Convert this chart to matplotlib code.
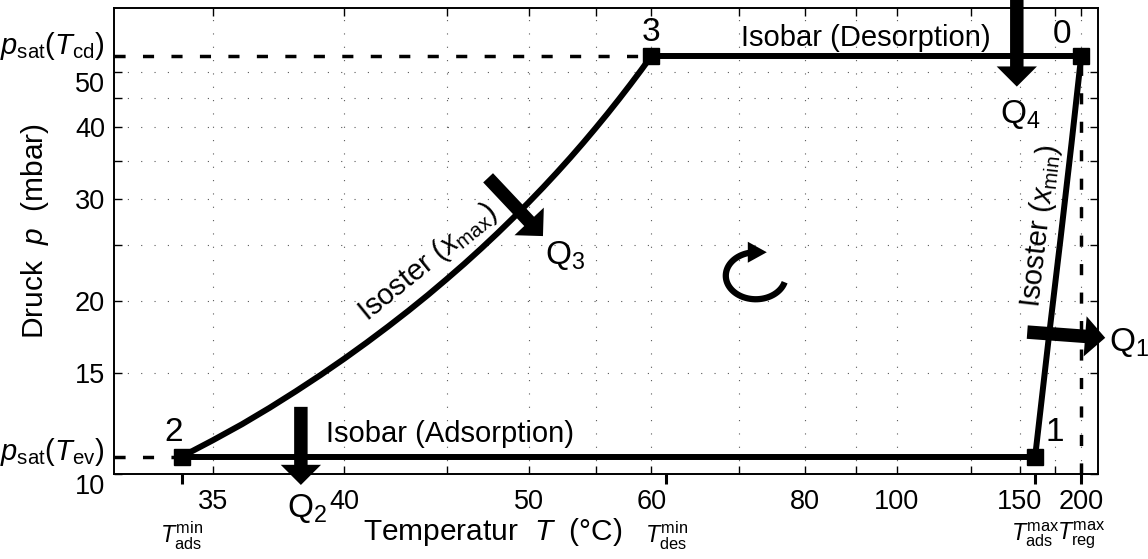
import numpy as np
import matplotlib
matplotlib.use('Agg')
import matplotlib.pyplot as plt
import matplotlib.ticker as mticker
import matplotlib.transforms as mtransforms

plt.rcParams['font.family'] = ['Liberation Sans', 'DejaVu Sans']
plt.rcParams['mathtext.fontset'] = 'custom'
plt.rcParams['mathtext.rm'] = 'Liberation Sans'
plt.rcParams['mathtext.it'] = 'Liberation Sans:italic'
plt.rcParams['mathtext.bf'] = 'Liberation Sans:bold'

# pressures (mbar) and temperatures (°C) of the cycle
p_ev = 10.72      # p_sat(T_ev)
p_cd = 53.2       # p_sat(T_cd)
T_ads_min = 34.0
T_des_min = 61.5
T_ads_max = 160.0
T_reg_max = 200.0
T_state3 = 60.0

# axis range
T_range = [32, 220]
p_range = [10, 64.5]

# isoster x_max (2 -> 3)
iso_max_T = [34, 35, 36, 37, 38, 39, 40, 41, 42, 43, 44, 45, 46, 47,
             48, 49, 50, 51, 52, 53, 54, 55, 56, 57, 58, 59, 60]
iso_max_p = [10.72, 11.44, 12.2, 13.03, 13.92, 14.86, 15.86, 16.92, 18.04, 19.22, 20.47, 21.8, 23.19, 24.67,
             26.23, 27.88, 29.62, 31.45, 33.39, 35.43, 37.59, 39.87, 42.26, 44.79, 47.45, 50.25, 53.2]

# isoster x_min (1 -> 0)
iso_min_T = [160, 170, 180, 190, 200]
iso_min_p = [10.72, 17.2, 25.8, 37.5, 53.2]

state_names = ['0', '1', '2', '3']
state_T = [200, 160, 34, 60]
state_p = [53.2, 10.72, 10.72, 53.2]
state_offsets = [(-13.7, 15.4), (14, 17.7), (-5.8, 17), (0, 16.8)]

# heat flow arrows
q_names = ['1', '2', '3', '4']
q_tail_T = [154.7, 38.2, 47.4, 148.2]
q_tail_p = [17.64, 13.08, 32.7, 66.7]
q_tip_T = [230.0, 38.2, 51.0, 148.2]
q_tip_p = [17.24, 9.57, 25.9, 47.1]
q_offsets = [(17.3, -3.6), (4.3, -16.6), (15.8, -13.7), (2.5, -20)]

x_ticks = [35, 40, 45, 50, 55, 60, 70, 80, 90, 100, 125, 150, 175, 200]
x_labels = ['35', '40', '', '50', '', '60', '', '80', '', '100', '', '150', '', '200']
y_ticks = [10, 15, 20, 25, 30, 35, 40, 45, 50]
y_labels = ['10', '15', '20', '', '30', '', '40', '', '50']
special_T = [T_ads_min, T_des_min, T_ads_max, T_reg_max]
special_labels = [r'$T_{\mathrm{ads}}^{\mathrm{min}}$', r'$T_{\mathrm{des}}^{\mathrm{min}}$',
                  r'$T_{\mathrm{ads}}^{\mathrm{max}}$', r'$T_{\mathrm{reg}}^{\mathrm{max}}$']

# centre of the little cycle-direction arrow
cyc_T, cyc_p = 72.3, 22.1


def forward(T):
    return -1.0 / np.asarray(T, dtype=float)


def inverse(f):
    return -1.0 / np.asarray(f, dtype=float)


fig = plt.figure(figsize=(11.48, 5.59), dpi=100)
ax = fig.add_axes([0.0993, 0.1521, 0.8571, 0.8336])
ax.set_xscale('function', functions=(forward, inverse))
ax.set_yscale('log')

dash = (0, (3.2, 5.0))
ax.plot([T_range[0], T_state3], [p_cd, p_cd], ls=dash, lw=2.5, color='k')
ax.plot([T_range[0], T_ads_min], [p_ev, p_ev], ls=dash, lw=2.5, color='k')
ax.plot([T_reg_max, T_reg_max], [p_range[0], p_cd], ls=dash, lw=2.5, color='k')

lw = 4.3
ax.plot([T_state3, T_reg_max], [p_cd, p_cd], color='k', lw=lw)
ax.plot(iso_min_T, iso_min_p, color='k', lw=lw)
ax.plot([T_ads_max, T_ads_min], [p_ev, p_ev], color='k', lw=lw)
ax.plot(iso_max_T, iso_max_p, color='k', lw=lw, solid_joinstyle='round')
ax.plot(state_T, state_p, 's', ms=12, color='k', zorder=5)

for name, T, p, off in zip(state_names, state_T, state_p, state_offsets):
    ax.annotate(name, xy=(T, p), xytext=off, textcoords='offset points',
                ha='center', va='center', fontsize=24)

arrow_style = 'simple,head_length=1.45,head_width=2.9,tail_width=0.97'
for name, t0, p0, t1, p1, off in zip(q_names, q_tail_T, q_tail_p, q_tip_T, q_tip_p, q_offsets):
    ax.annotate('', xy=(t1, p1), xytext=(t0, p0), annotation_clip=False,
                arrowprops=dict(arrowstyle=arrow_style, mutation_scale=10, color='k',
                                lw=0, shrinkA=0, shrinkB=0))
    ax.annotate('Q$_{%s}$' % name, xy=(t1, p1), xytext=off, textcoords='offset points',
                ha='center', va='center', fontsize=24, annotation_clip=False)

ax.text(92.2, 57.3, 'Isobar (Desorption)', fontsize=21, ha='center', va='center')
ax.text(45.16, 11.74, 'Isobar (Adsorption)', fontsize=21, ha='center', va='center')
ax.text(44.0, 23.3, r'Isoster ($x_{\mathrm{max}}$)', fontsize=21, ha='center', va='center',
        rotation=39, rotation_mode='anchor')
ax.text(163.6, 27.0, r'Isoster ($x_{\mathrm{min}}$)', fontsize=21, ha='center', va='center',
        rotation=83.5, rotation_mode='anchor')

# cycle direction (clockwise), drawn in inches around a data point
trans = fig.dpi_scale_trans + mtransforms.ScaledTranslation(cyc_T, cyc_p, ax.transData)
theta = np.radians(np.linspace(-16, -258.5, 80))
ax.plot(0.30 * np.cos(theta), 0.235 * np.sin(theta), transform=trans, color='k', lw=4.5,
        solid_capstyle='butt')
ax.fill([-0.08, -0.08, 0.11], [0.34, 0.13, 0.235], transform=trans, color='k', lw=0)

# p_sat labels on the left
ax.annotate(r'$p_{\mathrm{sat}}(T_{\mathrm{cd}})$', xy=(0, p_cd), xycoords=('axes fraction', 'data'),
            xytext=(-6.5, 7), textcoords='offset points', ha='right', va='center', fontsize=21,
            annotation_clip=False)
ax.annotate(r'$p_{\mathrm{sat}}(T_{\mathrm{ev}})$', xy=(0, p_ev), xycoords=('axes fraction', 'data'),
            xytext=(-6.5, 3.5), textcoords='offset points', ha='right', va='center', fontsize=21,
            annotation_clip=False)

ax.set_xlim(T_range)
ax.set_ylim(p_range)
ax.xaxis.remove_overlapping_locs = False
ax.set_xticks(x_ticks, labels=x_labels)
ax.set_xticks(special_T, labels=special_labels, minor=True)
ax.yaxis.set_major_locator(mticker.FixedLocator(y_ticks))
ax.yaxis.set_major_formatter(mticker.FixedFormatter(y_labels))
ax.yaxis.set_minor_locator(mticker.NullLocator())

ax.tick_params(which='major', direction='in', length=5.8, width=1.0, top=True, right=True,
               labelsize=19.5, colors='k')
ax.tick_params(axis='x', which='major', pad=11)
ax.tick_params(axis='y', which='major', pad=6.5)
ax.tick_params(axis='x', which='minor', direction='out', length=7.2, width=2.2, top=False,
               labelsize=16.8, pad=26)
# 10 and 50 sit just below their ticks, out of the way of the p_sat labels
yt = ax.yaxis.get_major_ticks(len(y_ticks))
yt[0].label1.set_verticalalignment('top')
yt[-1].label1.set_verticalalignment('top')

ax.grid(True, which='major', ls=(0, (1, 11)), color='0.35', lw=0.8)
ax.set_axisbelow(True)
for s in ax.spines.values():
    s.set_linewidth(1.4)

ax.set_xlabel('Temperatur  $T$  (°C)', fontsize=21.5)
ax.xaxis.set_label_coords(0.385, -0.1245)
ax.xaxis.label.set_va('center')
ax.set_ylabel('Druck  $p$  (mbar)', fontsize=21.5)
ax.yaxis.set_label_coords(-0.0803, 0.5215)
ax.yaxis.label.set_va('center')
ax.yaxis.label.set_ha('center')

fig.savefig('out.png', dpi=100)
